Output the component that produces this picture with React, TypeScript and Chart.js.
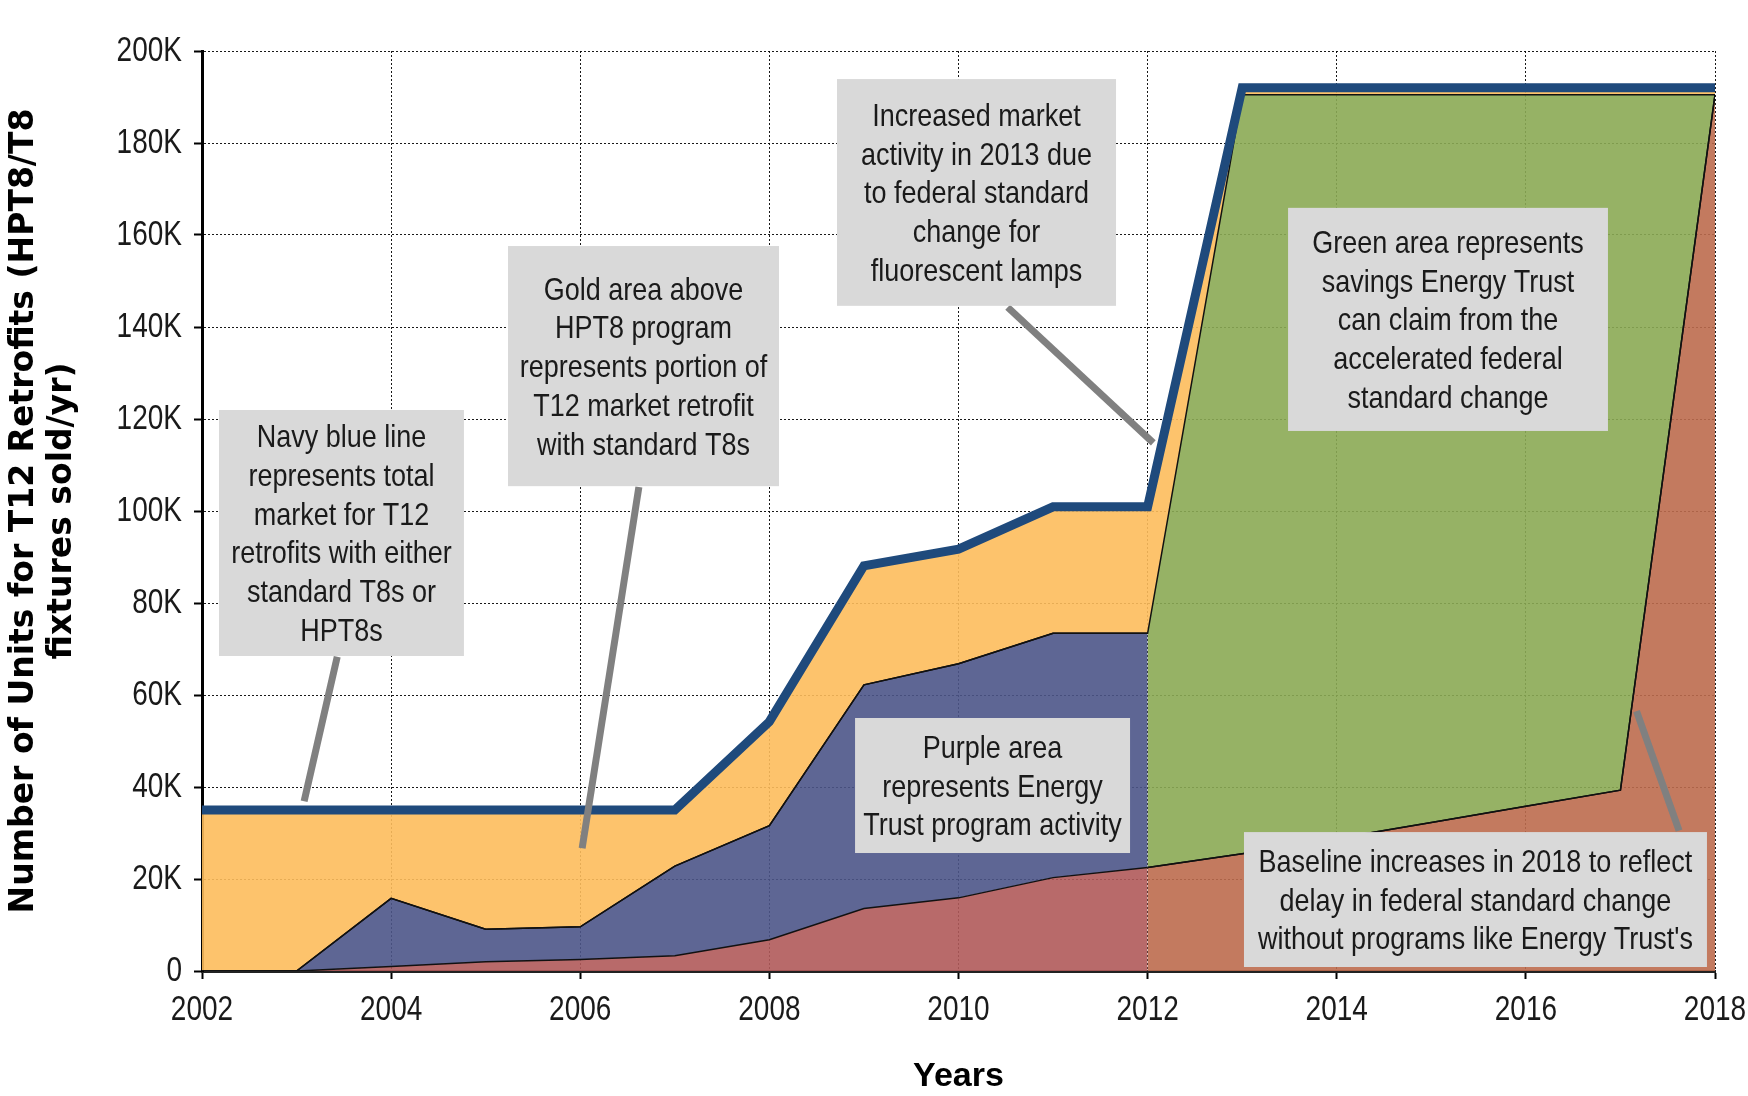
import React, { useEffect, useRef } from 'react';
import { Chart, registerables } from 'chart.js';

Chart.register(...registerables);

// ---------- data ----------
const years = [2002, 2003, 2004, 2005, 2006, 2007, 2008, 2009, 2010, 2011, 2012, 2013, 2014, 2015, 2016, 2017, 2018];

// red area: baseline market (top of red area)
const baselineUnits = [0, 0, 1000, 2000, 2500, 3300, 6800, 13600, 15900, 20300, 22500, 25500, 28800, 32300, 35800, 39300, 190500];

// purple area: top of Energy Trust program activity, 2002-2012
const programTopUnits = [0, 0, 15800, 9100, 9600, 22800, 31600, 62200, 66800, 73400, 73400];

// green area: top of savings from accelerated federal standard, 2012-2018
const savingsTopUnits = [73400, 190500, 190500, 190500, 190500, 190500, 190500];

// navy line: total market for T12 retrofits
const totalMarketUnits = [35000, 35000, 35000, 35000, 35000, 35000, 54200, 88100, 91700, 100900, 100900, 192000, 192000, 192000, 192000, 192000, 192000];

const yTickLabels = ['0', '20K', '40K', '60K', '80K', '100K', '120K', '140K', '160K', '180K', '200K'];

const yTitle = ['Number of Units for T12 Retrofits (HPT8/T8', 'fixtures sold/yr)'];
const xTitle = 'Years';

// annotation call-outs (box corners and pointer ends in data units)
const notes = [
  {
    lines: ['Navy blue line', 'represents total', 'market for T12', 'retrofits with either', 'standard T8s or', 'HPT8s'],
    box: [2002.18, 2004.77, 121960, 68480],
    pointer: [[2003.43, 68300], [2003.08, 36900]],
  },
  {
    lines: ['Gold area above', 'HPT8 program', 'represents portion of', 'T12 market retrofit', 'with standard T8s'],
    box: [2005.236, 2008.102, 157600, 105400],
    pointer: [[2006.62, 105200], [2006.02, 26700]],
  },
  {
    lines: ['Increased market', 'activity in 2013 due', 'to federal standard', 'change for', 'fluorescent lamps'],
    box: [2008.715, 2011.666, 193900, 144600],
    pointer: [[2010.52, 144300], [2012.06, 114800]],
  },
  {
    lines: ['Green area represents', 'savings Energy Trust', 'can claim from the', 'accelerated federal', 'standard change'],
    box: [2013.485, 2016.868, 165900, 117400],
    pointer: null,
  },
  {
    lines: ['Purple area', 'represents Energy', 'Trust program activity'],
    box: [2008.906, 2011.814, 55000, 25650],
    pointer: null,
  },
  {
    lines: ['Baseline increases in 2018 to reflect', 'delay in federal standard change', 'without programs like Energy Trust\'s'],
    box: [2013.019, 2017.915, 30200, 870],
    pointer: [[2017.62, 30500], [2017.17, 56500]],
  },
];

// ---------- styling ----------
const SANS = "'Liberation Sans', Arial, sans-serif";
const TEXT_COLOR = '#1a1a1a';

// draw text slightly stretched vertically (narrow look of the original)
function stretchedText(ctx: CanvasRenderingContext2D, s: string, x: number, baseline: number, k: number) {
  ctx.save();
  ctx.translate(x, baseline);
  ctx.scale(1, k);
  ctx.fillText(s, 0, 0);
  ctx.restore();
}

const axisLabelsPlugin = {
  id: 'axisLabels',
  afterDraw(chart: any) {
    const { ctx, chartArea } = chart;
    const xs = chart.scales.x;
    const ys = chart.scales.y;
    ctx.save();
    ctx.fillStyle = TEXT_COLOR;
    ctx.font = `28px ${SANS}`;
    ctx.textBaseline = 'alphabetic';
    ctx.textAlign = 'center';
    xs.ticks.forEach((t: any, i: number) => {
      const label = t.label ?? String(t.value);
      stretchedText(ctx, String(label), xs.getPixelForTick(i), chartArea.bottom + 49, 1.24);
    });
    ctx.textAlign = 'right';
    ys.ticks.forEach((t: any, i: number) => {
      const label = t.label ?? yTickLabels[Math.round(t.value / 20000)];
      stretchedText(ctx, String(label), chartArea.left - 20, ys.getPixelForTick(i) + 10, 1.24);
    });
    ctx.restore();
  },
};

const notesPlugin = {
  id: 'notes',
  afterDatasetsDraw(chart: any) {
    const { ctx } = chart;
    const xs = chart.scales.x;
    const ys = chart.scales.y;
    ctx.save();
    ctx.strokeStyle = '#808080';
    ctx.lineWidth = 7;
    ctx.lineCap = 'butt';
    for (const n of notes) {
      if (!n.pointer) continue;
      ctx.beginPath();
      ctx.moveTo(xs.getPixelForValue(n.pointer[0][0]), ys.getPixelForValue(n.pointer[0][1]));
      ctx.lineTo(xs.getPixelForValue(n.pointer[1][0]), ys.getPixelForValue(n.pointer[1][1]));
      ctx.stroke();
    }
    const pitch = 38.7;
    const capHalf = 11;
    for (const n of notes) {
      const l = xs.getPixelForValue(n.box[0]);
      const r = xs.getPixelForValue(n.box[1]);
      const t = ys.getPixelForValue(n.box[2]);
      const b = ys.getPixelForValue(n.box[3]);
      ctx.fillStyle = '#d9d9d9';
      ctx.fillRect(l, t, r - l, b - t);
      ctx.fillStyle = TEXT_COLOR;
      ctx.font = `27px ${SANS}`;
      ctx.textAlign = 'center';
      ctx.textBaseline = 'alphabetic';
      const cx = (l + r) / 2;
      const cy = (t + b) / 2;
      n.lines.forEach((s, i) => {
        stretchedText(ctx, s, cx, cy + (i - (n.lines.length - 1) / 2) * pitch + capHalf, 1.14);
      });
    }
    ctx.restore();
  },
};

export default function App() {
  const ref = useRef<HTMLCanvasElement>(null);

  useEffect(() => {
    document.body.style.margin = '0';
    const split = years.indexOf(2012);
    // x positions with 2012 twice (vertical edge where the program area ends)
    const xs = [...years.slice(0, split + 1), ...years.slice(split)];
    const red = [...baselineUnits.slice(0, split + 1), ...baselineUnits.slice(split)];
    const purple = [...programTopUnits, ...baselineUnits.slice(split)];
    const green = [...programTopUnits, ...savingsTopUnits];
    const total = [...totalMarketUnits.slice(0, split + 1), ...totalMarketUnits.slice(split)];
    const pts = (arr: number[]) => arr.map((v, i) => ({ x: xs[i], y: v }));

    const chart = new Chart(ref.current as HTMLCanvasElement, {
      type: 'line',
      data: {
        datasets: [
          {
            label: 'Baseline',
            data: pts(red),
            fill: 'origin',
            backgroundColor: 'rgba(176,90,90,0.9)',
            borderColor: '#111',
            borderWidth: 1.5,
            segment: {
              backgroundColor: (c: any) => (c.p0DataIndex > split ? 'rgba(189,108,78,0.9)' : undefined),
            },
            order: 1,
          },
          {
            label: 'Energy Trust program',
            data: pts(purple),
            fill: '-1',
            backgroundColor: 'rgba(76,85,136,0.9)',
            borderColor: '#111',
            borderWidth: 1.5,
            segment: {
              borderColor: (c: any) => (c.p0.parsed.x === c.p1.parsed.x ? 'rgba(0,0,0,0)' : undefined),
            },
            order: 1,
          },
          {
            label: 'Savings',
            data: pts(green),
            fill: '-1',
            backgroundColor: 'rgba(139,170,84,0.9)',
            borderColor: '#111',
            borderWidth: 1.5,
            order: 1,
          },
          {
            label: 'Standard T8',
            data: pts(total),
            fill: '-1',
            backgroundColor: 'rgba(253,189,92,0.9)',
            borderWidth: 0,
            borderColor: 'rgba(0,0,0,0)',
            order: 1,
          },
          {
            label: 'Total market',
            data: pts(total),
            fill: false,
            borderColor: '#1f4a7c',
            borderWidth: 9,
            borderJoinStyle: 'miter',
            order: -1,
          },
        ],
      },
      options: {
        responsive: false,
        animation: false,
        devicePixelRatio: 1,
        layout: { padding: { top: 51, right: 33, bottom: 0, left: 0 }, autoPadding: false },
        elements: { point: { radius: 0, hoverRadius: 0 }, line: { tension: 0 } },
        plugins: {
          legend: { display: false },
          tooltip: { enabled: false },
          filler: { drawTime: 'beforeDatasetsDraw' },
        },
        scales: {
          x: {
            type: 'linear',
            min: 2002,
            max: 2018,
            afterFit: (s: any) => { s.height = 125; },
            ticks: {
              display: false,
              stepSize: 2,
              autoSkip: false,
              maxRotation: 0,
              callback: (v: any) => String(v),
            },
            grid: { color: 'rgba(0,0,0,0.9)', lineWidth: 1, tickLength: 8, tickColor: '#000', tickWidth: 2 },
            border: { display: true, color: '#222', width: 3, dash: [2, 2] },
            title: {
              display: true,
              text: xTitle,
              color: '#000',
              font: { family: SANS, size: 34, weight: 'bold', lineHeight: 1.0 },
              padding: { top: 0, bottom: 2 },
            },
          },
          y: {
            min: 0,
            max: 200000,
            afterFit: (s: any) => { s.width = 202; },
            ticks: {
              display: false,
              stepSize: 20000,
              callback: (v: any) => yTickLabels[Math.round(Number(v) / 20000)],
            },
            grid: { color: 'rgba(0,0,0,0.9)', lineWidth: 1, tickLength: 8, tickColor: '#000', tickWidth: 2 },
            border: { display: true, color: '#000', width: 3, dash: [2, 2] },
            title: {
              display: true,
              text: yTitle,
              color: '#000',
              font: { family: "'DejaVu Sans', sans-serif", size: 33, weight: 'bold', lineHeight: 1.14 },
              padding: { top: 6, bottom: 0 },
            },
          },
        },
      },
      plugins: [notesPlugin, axisLabelsPlugin],
    } as any);

    return () => chart.destroy();
  }, []);

  return (
    <div style={{ position: 'absolute', left: 0, top: 0, width: 1748, height: 1096, background: '#fff' }}>
      <canvas ref={ref} width={1748} height={1096} style={{ display: 'block', width: 1748, height: 1096 }} />
    </div>
  );
}
